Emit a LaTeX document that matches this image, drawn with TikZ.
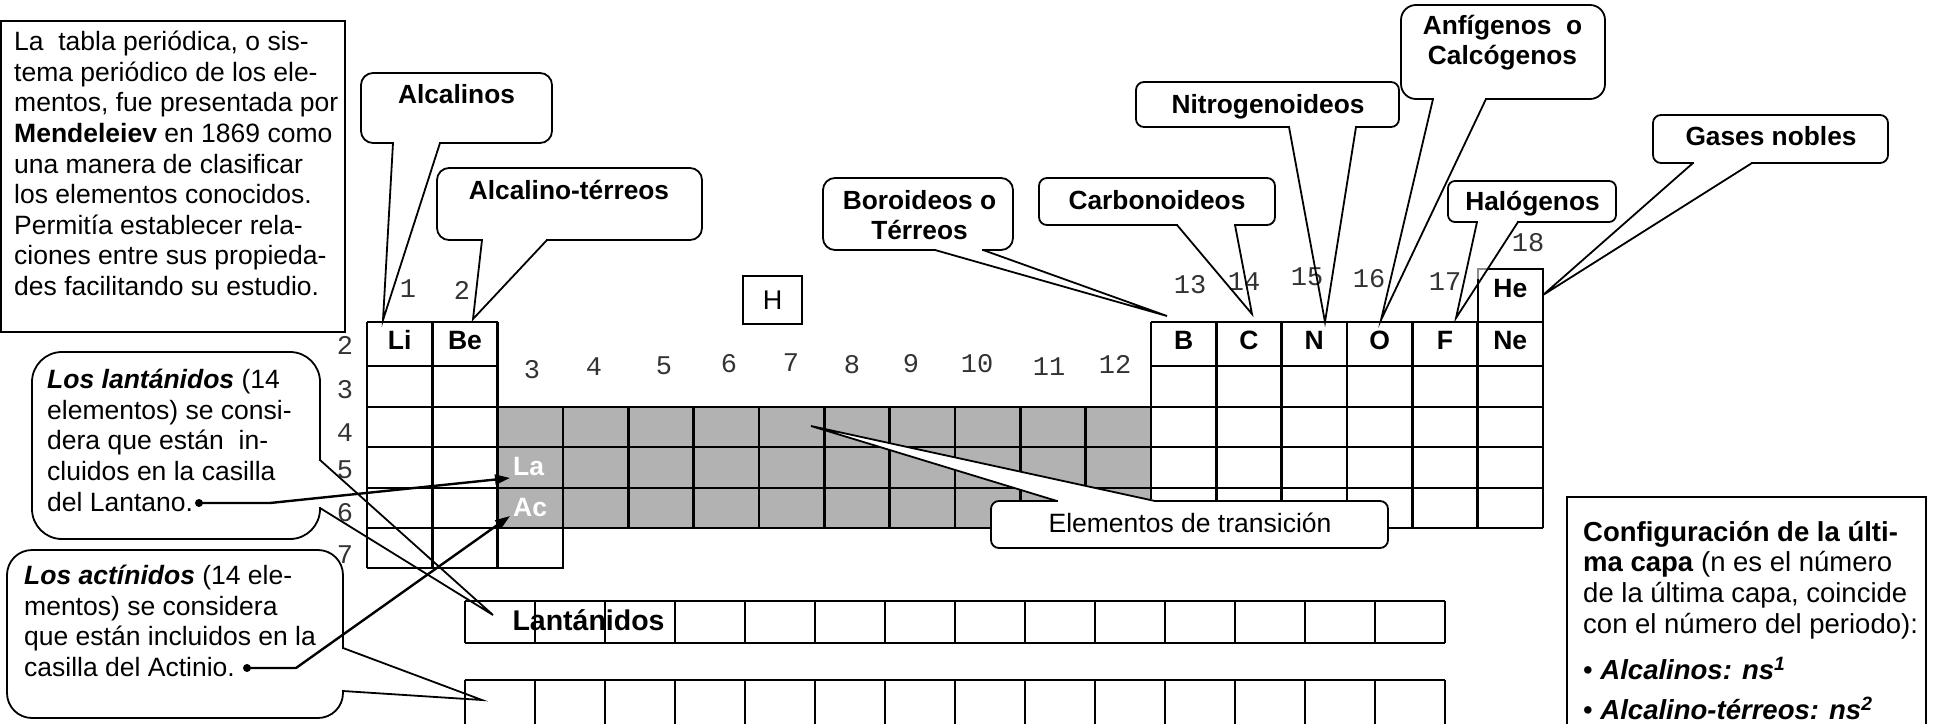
\documentclass[tikz,border=0pt]{standalone}
\usepackage{fontspec}
\setmainfont{Liberation Sans}
\newfontfamily\numfont{Liberation Mono}
\usetikzlibrary{arrows.meta}

% callout body: x1,y1,x2,y2,radius
\newcommand{\bubble}[5]{\draw[bub, rounded corners=#5] (#1,#2) rectangle (#3,#4);}
% pointer out of a horizontal edge: a, b, y, tip
\newcommand{\tailh}[4]{%
  \draw[white, line width=3.4pt] ({#1+1.2},#3) -- ({#2-1.2},#3);
  \draw[wedgeline] (#1,#3) -- #4 -- (#2,#3);}
% pointer out of a vertical edge: x, y1, y2, tip
\newcommand{\tailv}[4]{%
  \draw[white, line width=3.4pt] (#1,{#2+1.2}) -- (#1,{#3-1.2});
  \draw[wedgeline] (#1,#2) -- #4 -- (#1,#3);}

\begin{document}
\begin{tikzpicture}[x=1pt, y=-1pt,
  cellline/.style={line width=2.6pt},
  boxline/.style={line width=1.8pt},
  bub/.style={line width=1.8pt, fill=white},
  wedgeline/.style={line width=1.8pt},
  elem/.style={font=\fontsize{26.5}{30}\selectfont\bfseries, inner sep=0pt, anchor=base},
  num/.style={font=\numfont\fontsize{27}{30}\selectfont, inner sep=0pt, text=black!80},
  lab/.style={font=\fontsize{26.3}{30}\selectfont\bfseries, align=center, inner sep=0pt},
  txt/.style={font=\fontsize{26.5}{30.6}\selectfont, align=left, inner sep=0pt, anchor=north west},
  arr/.style={line width=2.4pt, -{Triangle[length=15pt,width=10pt]}},
  dot/.style={circle, fill, inner sep=0pt, minimum size=8pt}]
\useasboundingbox (0,0) rectangle (1936,723);

% intro box
\draw[boxline] (1,21) rectangle (345,332);
\node[txt] (intro) at (14,31) {La\ \ tabla periódica, o sis-\\tema periódico de los ele-\\mentos, fue presentada por\\\textbf{Mendeleiev} en 1869 como\\una manera de clasificar\\los elementos conocidos.\\Permitía establecer rela-\\ciones entre sus propieda-\\des facilitando su estudio.};

% main table
\fill[black!30] (497.7,407) rectangle (1151,528);
\foreach \y in {322,366,407,447,488,528,568} \draw[cellline] (367,\y) -- (497.7,\y);
\foreach \k in {0,1,2} \draw[cellline] ({367+65.33*\k},322) -- ({367+65.33*\k},568);
\foreach \y in {407,447,488,528} \draw[cellline] (497.7,\y) -- (1151,\y);
\foreach \k in {3,...,12} \draw[cellline] ({367+65.33*\k},407) -- ({367+65.33*\k},528);
\draw[cellline] (497.7,528) rectangle (563,568);
\foreach \y in {322,366,407,447,488,528} \draw[cellline] (1151,\y) -- (1543,\y);
\foreach \k in {12,...,18} \draw[cellline] ({367+65.33*\k},322) -- ({367+65.33*\k},528);
\draw[cellline] (1478,269) rectangle (1543,322);
\draw[black!45, line width=2pt] (1478,279) -- (1478,269) -- (1488,269);

\foreach \e/\k in {Li/1,Be/2,B/13,C/14,N/15,O/16,F/17,Ne/18}
  \node[elem] (\e) at ({367+65.33*(\k-0.5)},349) {\e};
\node[elem] (He) at (1510.3,297) {He};
\node[elem, anchor=base west, text=white] (La) at (513,475) {La};
\node[elem, anchor=base west, text=white] (Ac) at (513,516) {Ac};
\node[draw, boxline, minimum width=59pt, minimum height=48pt, inner sep=0pt,
  font=\fontsize{27}{30}\selectfont] (H) at (772.5,300) {H};

% group and period numbers
\foreach \t/\px/\py in {1/408/289,2/462/290,3/532/370,4/594/367,5/664/366,6/729/364,
  7/791/363,8/852/365,9/911/364,10/977/364,11/1049/367,12/1115/364,13/1190/285,
  14/1244/282,15/1307/277,16/1369/279,17/1445/282,18/1528/243}
  \node[num] (g\t) at (\px,\py) {\t};
\foreach \t/\py in {2/345,3/390,4/433,5/470,6/513,7/555}
  \node[num] (p\t) at (345,\py) {\t};

% lanthanide and actinide rows
\foreach \k in {0,...,14} \draw[cellline] ({465+70*\k},601) -- ({465+70*\k},643);
\draw[cellline] (465,601) -- (1445,601) (465,643) -- (1445,643);
\foreach \k in {0,...,14} \draw[cellline] ({465+70*\k},680) -- ({465+70*\k},726);
\draw[cellline] (465,680) -- (1445,680);
\node[lab, anchor=base, font=\fontsize{28.5}{30}\selectfont\bfseries] (lant) at (588.5,630) {Lantánidos};

% pointer tips
\coordinate (tLi) at (383,320);
\coordinate (tBe) at (473,319);
\coordinate (tB) at (1167,316);
\coordinate (tC) at (1252,314);
\coordinate (tN) at (1325,322);
\coordinate (tO) at (1381,320);
\coordinate (tF) at (1456,318);
\coordinate (tHe) at (1543,295);
\coordinate (tTr) at (811,426);
\coordinate (tLan) at (493,615);
\coordinate (tAct) at (482,700);

% callouts
\bubble{361}{73}{552}{143}{12}
\tailh{393}{440}{143}{(tLi)}
\node[lab, anchor=base] (alc) at (456.5,103) {Alcalinos};

\bubble{437}{168}{702}{240}{12}
\tailh{482}{547}{240}{(tBe)}
\node[lab, anchor=base] (alct) at (569,199) {Alcalino-térreos};

\bubble{823}{178}{1013}{250}{12}
\tailh{935}{983}{250}{(tB)}
\node[lab] (bor) at (919.5,215) {Boroideos o\\Térreos};

\bubble{1039}{178}{1275}{225}{8}
\tailh{1177}{1235}{225}{(tC)}
\node[lab, anchor=base] (car) at (1157,209) {Carbonoideos};

\bubble{1136}{82}{1399}{127}{8}
\tailh{1289}{1356}{127}{(tN)}
\node[lab, anchor=base] (nit) at (1268,113) {Nitrogenoideos};

\bubble{1401}{5}{1605}{99}{15}
\tailh{1433}{1486}{99}{(tO)}
\node[lab] (anf) at (1502.5,43) {Anfígenos\ \ o\\Calcógenos};

\bubble{1448}{181}{1616}{222}{7}
\tailh{1477}{1518}{222}{(tF)}
\node[lab, anchor=base] (hal) at (1532.5,210) {Halógenos};

\bubble{1653}{115}{1888}{163}{8}
\tailh{1693}{1752}{163}{(tHe)}
\node[lab, anchor=base] (gas) at (1771,145) {Gases nobles};

\fill[white] (1057,501) -- (tTr) -- (1155,501) -- cycle;
\bubble{991}{501}{1388}{548}{8}
\tailh{1057}{1155}{501}{(tTr)}
\node[lab, anchor=base, font=\fontsize{26.5}{30}\selectfont] (tra) at (1190,532) {Elementos de transición};

\bubble{32}{352}{320}{539}{30}
\tailv{320}{460}{508}{(tLan)}
\node[txt] (lan) at (47,369) {\textbf{\textit{Los lantánidos}} (14\\elementos) se consi-\\dera que están\ \ in-\\cluidos en la casilla\\del Lantano.};

\bubble{7}{550}{343}{718}{25}
\tailv{343}{648}{691}{(tAct)}
\node[txt] (act) at (24,565) {\textbf{\textit{Los actínidos}} (14 ele-\\mentos) se considera\\que están incluidos en la\\casilla del Actinio.};

% arrows to La and Ac
\node[dot] (dLa) at (199,503) {};
\coordinate (kLa) at (270,503);
\draw[arr] (dLa.center) -- (kLa) -- ([xshift=-3pt,yshift=-3pt]La.base west);
\node[dot] (dAc) at (247,668) {};
\coordinate (kAc) at (296,668);
\draw[arr] (dAc.center) -- (kAc) -- ([xshift=-3pt]Ac.base west);

% configuration box
\draw[boxline] (1567,726) -- (1567,497) -- (1926,497) -- (1926,726);
\node[txt, font=\fontsize{27.5}{30.6}\selectfont] (conf) at (1583,521) {\textbf{Configuración de la últi-}\\\textbf{ma capa} (n es el número\\de la última capa, coincide\\con el número del periodo):\\[16pt]• \textbf{\textit{Alcalinos: ns\textsuperscript{1}}}\\[9pt]• \textbf{\textit{Alcalino-térreos: ns\textsuperscript{2}}}};
\end{tikzpicture}
\end{document}
